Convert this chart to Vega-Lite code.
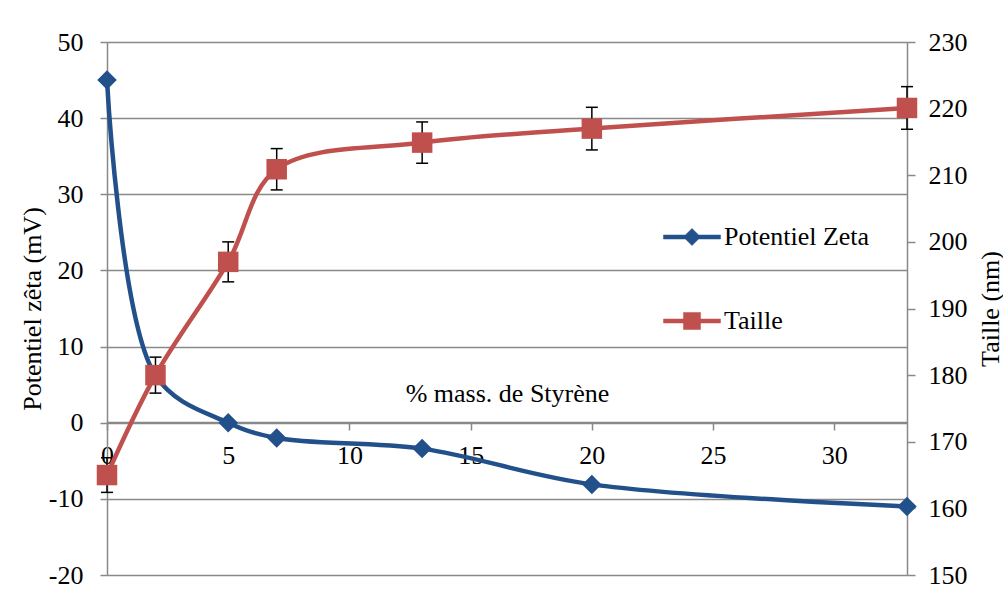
{
  "$schema": "https://vega.github.io/schema/vega-lite/v6.json",
  "width": 800,
  "height": 533,
  "autosize": {"type": "none"},
  "padding": {"left": 107, "top": 42, "right": 96, "bottom": 26},
  "background": "white",
  "config": {
    "font": "Liberation Serif",
    "view": {"stroke": null},
    "axis": {
      "labelFont": "Liberation Serif",
      "titleFont": "Liberation Serif",
      "labelFontSize": 26,
      "titleFontSize": 26,
      "titleFontWeight": "normal",
      "labelColor": "#000000",
      "titleColor": "#000000",
      "domainColor": "#898989",
      "tickColor": "#898989",
      "gridColor": "#898989",
      "domainWidth": 1.5,
      "tickWidth": 1.5,
      "gridWidth": 1.5
    },
    "legend": {
      "labelFont": "Liberation Serif",
      "labelFontSize": 26,
      "labelColor": "#000000",
      "labelLimit": 400
    }
  },
  "data": {
    "values": [
      {"x": 0, "zeta": 45, "taille": 165, "lo": 162.4, "hi": 167.6},
      {"x": 2, "zeta": 6.2, "taille": 180, "lo": 177.3, "hi": 182.7},
      {"x": 5, "zeta": 0, "taille": 197, "lo": 194, "hi": 200},
      {"x": 7, "zeta": -2, "taille": 210.9, "lo": 207.8, "hi": 214},
      {"x": 13, "zeta": -3.4, "taille": 214.9, "lo": 211.8, "hi": 218},
      {"x": 20, "zeta": -8.1, "taille": 217, "lo": 213.8, "hi": 220.2},
      {"x": 33, "zeta": -11, "taille": 220.1, "lo": 216.9, "hi": 223.3}
    ]
  },
  "layer": [
    {
      "layer": [
        {
          "mark": {"type": "line", "interpolate": "catmull-rom", "strokeWidth": 4.5},
          "encoding": {
            "x": {
              "field": "x", "type": "quantitative",
              "scale": {"domain": [0, 33], "nice": false, "zero": false},
              "axis": {
                "title": "% mass. de Styrène",
                "values": [0, 5, 10, 15, 20, 25, 30],
                "offset": -153,
                "grid": false,
                "tickSize": 8,
                "labelPadding": 12,
                "labelFlush": false,
                "labelFont": "Liberation Serif",
                "titleFont": "Liberation Serif",
                "titleX": 400,
                "titleY": -21,
                "titleBaseline": "alphabetic"
              }
            },
            "y": {
              "field": "zeta", "type": "quantitative",
              "scale": {"domain": [-20, 50], "nice": false},
              "axis": {
                "title": "Potentiel zêta (mV)",
                "orient": "left",
                "values": [-20, -10, 0, 10, 20, 30, 40, 50],
                "labelExpr": "replace(datum.label, '−', '-')",
                "labelFont": "Liberation Serif",
                "titleFont": "Liberation Serif",
                "grid": true,
                "tickSize": 7,
                "labelPadding": 17,
                "titleAngle": -90,
                "titleX": -67,
                "titleBaseline": "alphabetic"
              }
            },
            "color": {
              "datum": "Potentiel Zeta", "type": "nominal",
              "scale": {"domain": ["Potentiel Zeta", "Taille"], "range": ["#22508A", "#C0504D"]},
              "legend": {
                "title": null,
                "orient": "none",
                "legendX": 556,
                "legendY": 166,
                "padding": 0,
                "symbolSize": 3249,
                "rowPadding": 42,
                "labelOffset": 3,
                "labelFont": "Liberation Serif",
                "encode": {
                  "symbols": {
                    "update": {
                      "shape": {"signal": "datum.value === 'Taille' ? 'M-1,-0.07L-0.3,-0.07L-0.3,-0.3L0.3,-0.3L0.3,-0.07L1,-0.07L1,0.07L0.3,0.07L0.3,0.3L-0.3,0.3L-0.3,0.07L-1,0.07Z' : 'M-1,-0.07L-0.23,-0.07L0,-0.3L0.23,-0.07L1,-0.07L1,0.07L0.23,0.07L0,0.3L-0.23,0.07L-1,0.07Z'"},
                      "fill": {"signal": "datum.value === 'Taille' ? '#C0504D' : '#22508A'"},
                      "stroke": {"signal": "datum.value === 'Taille' ? '#C0504D' : '#22508A'"},
                      "strokeWidth": {"value": 0.5},
                      "opacity": {"value": 1}
                    }
                  }
                }
              }
            }
          }
        },
        {
          "mark": {"type": "point", "shape": "diamond", "filled": true, "size": 380, "opacity": 1, "color": "#22508A"},
          "encoding": {
            "x": {"field": "x", "type": "quantitative"},
            "y": {"field": "zeta", "type": "quantitative"}
          }
        }
      ]
    },
    {
      "layer": [
        {
          "mark": {"type": "rule", "color": "#000000", "strokeWidth": 1.5},
          "encoding": {
            "x": {"field": "x", "type": "quantitative"},
            "y": {
              "field": "lo", "type": "quantitative",
              "scale": {"domain": [150, 230], "nice": false},
              "axis": {
                "title": "Taille (nm)",
                "orient": "right",
                "values": [150, 160, 170, 180, 190, 200, 210, 220, 230],
                "labelFont": "Liberation Serif",
                "titleFont": "Liberation Serif",
                "grid": false,
                "tickSize": 8,
                "labelPadding": 13,
                "titleAngle": -90,
                "titleX": 91,
                "titleBaseline": "alphabetic"
              }
            },
            "y2": {"field": "hi"}
          }
        },
        {
          "mark": {"type": "tick", "orient": "horizontal", "color": "#000000", "size": 12, "thickness": 1.5, "opacity": 1},
          "encoding": {
            "x": {"field": "x", "type": "quantitative"},
            "y": {"field": "lo", "type": "quantitative"}
          }
        },
        {
          "mark": {"type": "tick", "orient": "horizontal", "color": "#000000", "size": 12, "thickness": 1.5, "opacity": 1},
          "encoding": {
            "x": {"field": "x", "type": "quantitative"},
            "y": {"field": "hi", "type": "quantitative"}
          }
        },
        {
          "mark": {"type": "line", "interpolate": "catmull-rom", "strokeWidth": 4.5},
          "encoding": {
            "x": {"field": "x", "type": "quantitative"},
            "y": {"field": "taille", "type": "quantitative"},
            "color": {"datum": "Taille", "type": "nominal"}
          }
        },
        {
          "mark": {"type": "point", "shape": "square", "filled": true, "size": 420, "opacity": 1, "color": "#C0504D"},
          "encoding": {
            "x": {"field": "x", "type": "quantitative"},
            "y": {"field": "taille", "type": "quantitative"}
          }
        }
      ]
    }
  ],
  "resolve": {"scale": {"y": "independent"}}
}
